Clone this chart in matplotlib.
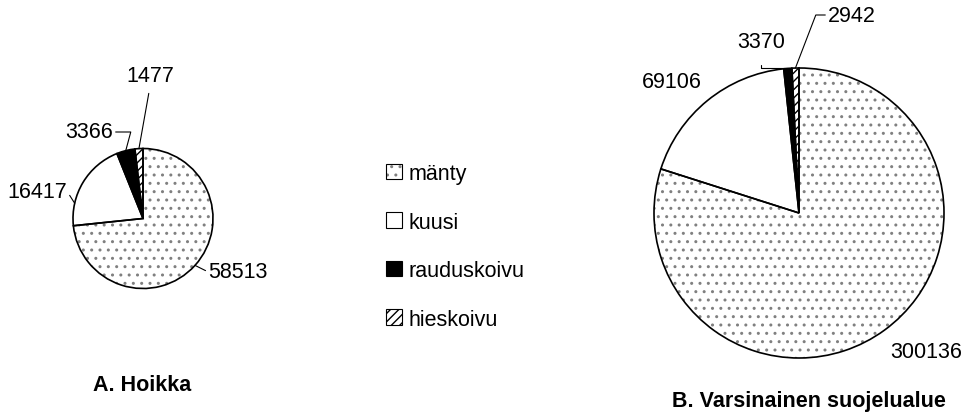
#!/usr/bin/env python3
import numpy as np
import matplotlib
matplotlib.use('Agg')
import matplotlib.pyplot as plt
from matplotlib.patches import Patch

# Data: tree species volumes for the two areas
species = ['mänty', 'kuusi', 'rauduskoivu', 'hieskoivu']
hoikka = [58513, 16417, 3366, 1477]
varsinainen = [300136, 69106, 3370, 2942]
titles = ['A. Hoikka', 'B. Varsinainen suojelualue']

# Styles per species
faces = ['white', 'white', 'black', 'white']
hatches = ['..', '', '', '////']
hatch_colors = ['#808080', 'black', 'black', 'black']

W, H = 966, 414
plt.rcParams['font.family'] = ['Liberation Sans', 'DejaVu Sans']
plt.rcParams['hatch.linewidth'] = 1.0
FS = 15.5


def px(x, y):
    """pixel position (top-left origin) -> data coords"""
    return x, H - y


def wedge_point(w, frac=0.5):
    """point on the rim of a wedge at a fraction of its angle span"""
    ang = np.deg2rad(w.theta1 + frac * (w.theta2 - w.theta1))
    cx, cy = w.center
    return cx + w.r * np.cos(ang), cy + w.r * np.sin(ang)


def draw_pie(ax, values, center, radius):
    # fill + hatch layer (hatch colour comes from the edge colour)
    fills, _ = ax.pie(values, center=px(*center), radius=radius,
                      startangle=90, counterclock=False,
                      colors=faces, frame=True, wedgeprops=dict(linewidth=0))
    for w, h, hc in zip(fills, hatches, hatch_colors):
        w.set_hatch(h)
        w.set_edgecolor(hc)
        w.set_linewidth(0)
    # outline layer
    wedges, _ = ax.pie(values, center=px(*center), radius=radius,
                       startangle=90, counterclock=False, frame=True,
                       wedgeprops=dict(facecolor='none', edgecolor='black',
                                       linewidth=1.2))
    return wedges


fig = plt.figure(figsize=(W / 100, H / 100), dpi=100)
ax = fig.add_axes([0, 0, 1, 1])

wa = draw_pie(ax, hoikka, (143, 219.5), 70)
wb = draw_pie(ax, varsinainen, (799, 214), 145)

ax.set_xlim(0, W)
ax.set_ylim(0, H)
ax.set_aspect('equal')
ax.axis('off')

line = dict(arrowstyle='-', color='black', lw=0.8, shrinkA=0, shrinkB=0)

# Pie A labels
ax.annotate(f'{hoikka[0]}', xy=wedge_point(wa[0]), xytext=px(238, 273),
            ha='center', va='center', fontsize=FS,
            arrowprops=dict(line, relpos=(0, 0.5)))
ax.annotate(f'{hoikka[1]}', xy=wedge_point(wa[1], 0.75), xytext=px(37, 192),
            ha='center', va='center', fontsize=FS,
            arrowprops=dict(line, relpos=(1, 0.5)))
ax.annotate(f'{hoikka[2]}', xy=wedge_point(wa[2]), xytext=px(89, 133),
            ha='center', va='center', fontsize=FS,
            arrowprops=dict(line, relpos=(1, 0.5),
                            connectionstyle='angle,angleA=0,angleB=75,rad=0'))
ax.annotate(f'{hoikka[3]}', xy=wedge_point(wa[3]), xytext=px(150, 77),
            ha='center', va='center', fontsize=FS,
            arrowprops=dict(line, relpos=(0.5, 0), shrinkA=3))

# Pie B labels
ax.text(*px(926, 353), f'{varsinainen[0]}', ha='center', va='center', fontsize=FS)
ax.text(*px(672, 82), f'{varsinainen[1]}', ha='center', va='center', fontsize=FS)
ax.annotate(f'{varsinainen[2]}', xy=wedge_point(wb[2]), xytext=px(761, 42),
            ha='center', va='center', fontsize=FS,
            arrowprops=dict(line, relpos=(0.5, 0), shrinkA=8,
                            connectionstyle='angle,angleA=90,angleB=0,rad=0'))
ax.annotate(f'{varsinainen[3]}', xy=wedge_point(wb[3]), xytext=px(852, 16),
            ha='center', va='center', fontsize=FS,
            arrowprops=dict(line, relpos=(0, 0.5),
                            connectionstyle='angle,angleA=0,angleB=69,rad=0'))

# Titles
ax.text(*px(142, 386), titles[0], ha='center', va='center',
        fontsize=FS, fontweight='bold')
ax.text(*px(809, 402), titles[1], ha='center', va='center',
        fontsize=FS, fontweight='bold')

# Legend: hatch layer + black outline for each entry
handles = [(Patch(facecolor=f, edgecolor=hc, hatch=h, linewidth=0),
            Patch(facecolor='none', edgecolor='black', linewidth=0.8))
           for f, h, hc in zip(faces, hatches, hatch_colors)]
ax.legend(handles, species, loc='upper left',
          bbox_to_anchor=(386 / W, 1 - 164 / H), bbox_transform=fig.transFigure,
          frameon=False, fontsize=FS, handlelength=0.75, handleheight=0.75,
          handletextpad=0.3, labelspacing=1.28, borderpad=0, borderaxespad=0)

fig.savefig('out.png', dpi=100)
